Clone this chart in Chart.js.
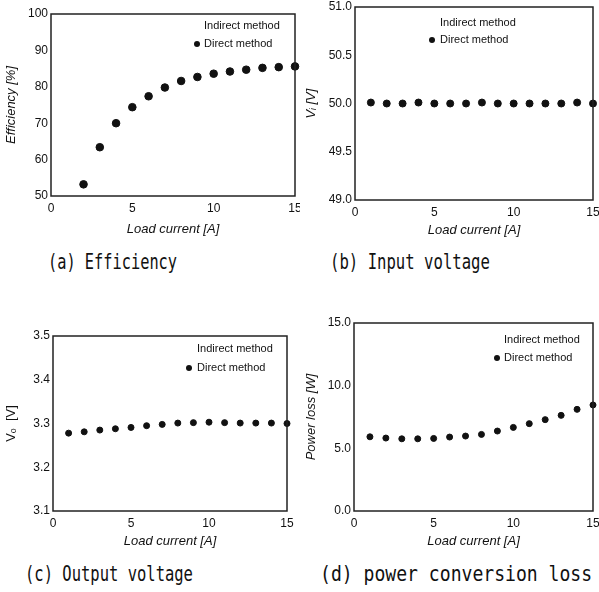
<!DOCTYPE html>
<html>
<head>
<meta charset="utf-8">
<script src="https://cdn.jsdelivr.net/npm/chart.js@4.4.1/dist/chart.umd.min.js"></script>
<style>
  body { margin: 0; background: #fff; width: 599px; height: 592px; position: relative; overflow: hidden; }
  .panel { position: absolute; }
  .caption { position: absolute; font-family: 'DejaVu Sans Mono', monospace; font-size: 21px; line-height: 24px;
             color: #111; white-space: nowrap; transform-origin: left center; }
</style>
</head>
<body>
<div class="panel" style="left:0;top:0"><canvas id="effChart" width="300" height="241"></canvas></div>
<div class="panel" style="left:300px;top:0"><canvas id="vinChart" width="299" height="242"></canvas></div>
<div class="panel" style="left:0;top:290px"><canvas id="voutChart" width="300" height="263"></canvas></div>
<div class="panel" style="left:300px;top:290px"><canvas id="lossChart" width="299" height="263"></canvas></div>

<script>
// load current [A]
const loadCurrent = [1, 2, 3, 4, 5, 6, 7, 8, 9, 10, 11, 12, 13, 14, 15];
const effCurrent = [2, 3, 4, 5, 6, 7, 8, 9, 10, 11, 12, 13, 14, 15];

// direct method measurements
const efficiency = [53.2, 63.4, 70.0, 74.4, 77.4, 79.8, 81.6, 82.7, 83.6, 84.2, 84.7, 85.2, 85.4, 85.6];
const inputVoltage = [50.01, 50.0, 50.0, 50.01, 50.0, 50.0, 50.0, 50.01, 50.0, 50.0, 50.0, 50.0, 50.0, 50.01, 50.0];
const outputVoltage = [3.278, 3.281, 3.285, 3.288, 3.291, 3.295, 3.298, 3.301, 3.302, 3.303, 3.302, 3.301, 3.301, 3.301, 3.300];
const powerLoss = [5.92, 5.82, 5.76, 5.76, 5.79, 5.90, 5.98, 6.11, 6.38, 6.67, 6.97, 7.29, 7.63, 8.11, 8.46];

// indirect method markers did not survive in the figure
const indirectPoints = [];

const seriesLabels = ['Indirect method', 'Direct method'];
const captions = ['(a) Efficiency', '(b) Input voltage', '(c) Output voltage', '(d) power conversion loss'];

Chart.defaults.font.family = "'Liberation Sans', Arial, sans-serif";
Chart.defaults.font.size = 12;
Chart.defaults.color = '#111';

// box around the plot area
const framePlugin = {
  id: 'frame',
  afterDraw(chart) {
    const { ctx, chartArea: a } = chart;
    ctx.save();
    ctx.strokeStyle = '#222';
    ctx.lineWidth = 1.5;
    ctx.strokeRect(a.left, a.top, a.right - a.left, a.bottom - a.top);
    ctx.restore();
  }
};

// legend drawn inside the plot area
const insideLegend = {
  id: 'insideLegend',
  afterDraw(chart, args, opts) {
    const { ctx, chartArea: a } = chart;
    ctx.save();
    ctx.font = "11px 'Liberation Sans', Arial, sans-serif";
    ctx.textBaseline = 'middle';
    chart.data.datasets.forEach((ds, i) => {
      const y = a.top + opts.rows[i];
      ctx.beginPath();
      ctx.arc(a.left + opts.markerX, y, 3, 0, Math.PI * 2);
      ctx.fillStyle = ds.backgroundColor;
      ctx.fill();
      ctx.fillStyle = '#111';
      ctx.fillText(ds.label, a.left + opts.textX, y);
    });
    ctx.restore();
  }
};

function makeChart(id, cfg) {
  const pts = cfg.y.map((v, i) => ({ x: cfg.x[i], y: v }));
  return new Chart(document.getElementById(id), {
    type: 'scatter',
    data: {
      datasets: [
        { label: seriesLabels[0], data: indirectPoints, backgroundColor: '#fff', borderColor: '#fff', pointRadius: 0 },
        { label: seriesLabels[1], data: pts, backgroundColor: '#111', borderColor: '#111', pointRadius: cfg.radius, clip: false }
      ]
    },
    options: {
      responsive: false,
      animation: false,
      layout: { padding: cfg.padding },
      plugins: {
        legend: { display: false },
        tooltip: { enabled: false },
        insideLegend: cfg.legend
      },
      scales: {
        x: {
          min: 0, max: 15,
          grid: { display: false, drawTicks: false },
          border: { display: false },
          ticks: { stepSize: 5, padding: 5, font: { size: 12 } },
          title: { display: true, text: 'Load current [A]', font: { size: 13, style: 'italic' } },
          afterFit: s => { s.height = cfg.xHeight; s.paddingLeft = 0; s.paddingRight = 0; }
        },
        y: {
          min: cfg.yMin, max: cfg.yMax,
          grid: { display: false, drawTicks: false },
          border: { display: false },
          ticks: { stepSize: cfg.yStep, padding: 3, font: { size: 12 }, callback: v => v.toFixed(cfg.decimals) },
          title: { display: true, text: cfg.yTitle, font: { size: 13, style: cfg.titleStyle || 'italic' } },
          afterFit: s => { s.width = cfg.yWidth; s.paddingTop = 0; s.paddingBottom = 0; }
        }
      }
    },
    plugins: [framePlugin, insideLegend]
  });
}

makeChart('effChart', {
  x: effCurrent, y: efficiency, radius: 3.8,
  yMin: 50, yMax: 100, yStep: 10, decimals: 0, yTitle: 'Efficiency [%]',
  yWidth: 51, xHeight: 45, padding: { left: 0, right: 5, top: 14, bottom: 0 },
  legend: { markerX: 146, textX: 153, rows: [12, 30] }
});

makeChart('vinChart', {
  x: loadCurrent, y: inputVoltage, radius: 3.5,
  yMin: 49, yMax: 51, yStep: 0.5, decimals: 1, yTitle: 'Vᵢ [V]',
  yWidth: 55, xHeight: 42, padding: { left: 0, right: 6, top: 7, bottom: 0 },
  legend: { markerX: 77, textX: 85, rows: [16, 33] }
});

makeChart('voutChart', {
  x: loadCurrent, y: outputVoltage, radius: 3,
  yMin: 3.1, yMax: 3.5, yStep: 0.1, decimals: 1, yTitle: 'Vₒ  [V]', titleStyle: 'normal',
  yWidth: 53, xHeight: 42, padding: { left: 0, right: 13, top: 46, bottom: 0 },
  legend: { markerX: 136, textX: 144, rows: [13, 32] }
});

makeChart('lossChart', {
  x: loadCurrent, y: powerLoss, radius: 3,
  yMin: 0, yMax: 15, yStep: 5, decimals: 1, yTitle: 'Power loss [W]',
  yWidth: 54, xHeight: 42, padding: { left: 0, right: 6, top: 33, bottom: 0 },
  legend: { markerX: 143, textX: 150, rows: [17, 35] }
});

// captions under each panel, squeezed to the width they have in the figure
const captionBoxes = [
  { left: 48, width: 129, cy: 262 },
  { left: 330, width: 160, cy: 262 },
  { left: 25, width: 168, cy: 574 },
  { left: 320, width: 272, cy: 574 }
];
const measure = document.createElement('canvas').getContext('2d');
measure.font = "21px 'DejaVu Sans Mono', monospace";
captions.forEach((text, i) => {
  const b = captionBoxes[i];
  const div = document.createElement('div');
  div.className = 'caption';
  div.textContent = text;
  div.style.left = b.left + 'px';
  div.style.top = (b.cy - 12) + 'px';
  div.style.transform = 'scaleX(' + (b.width / measure.measureText(text).width).toFixed(3) + ')';
  document.body.appendChild(div);
});
</script>
</body>
</html>
